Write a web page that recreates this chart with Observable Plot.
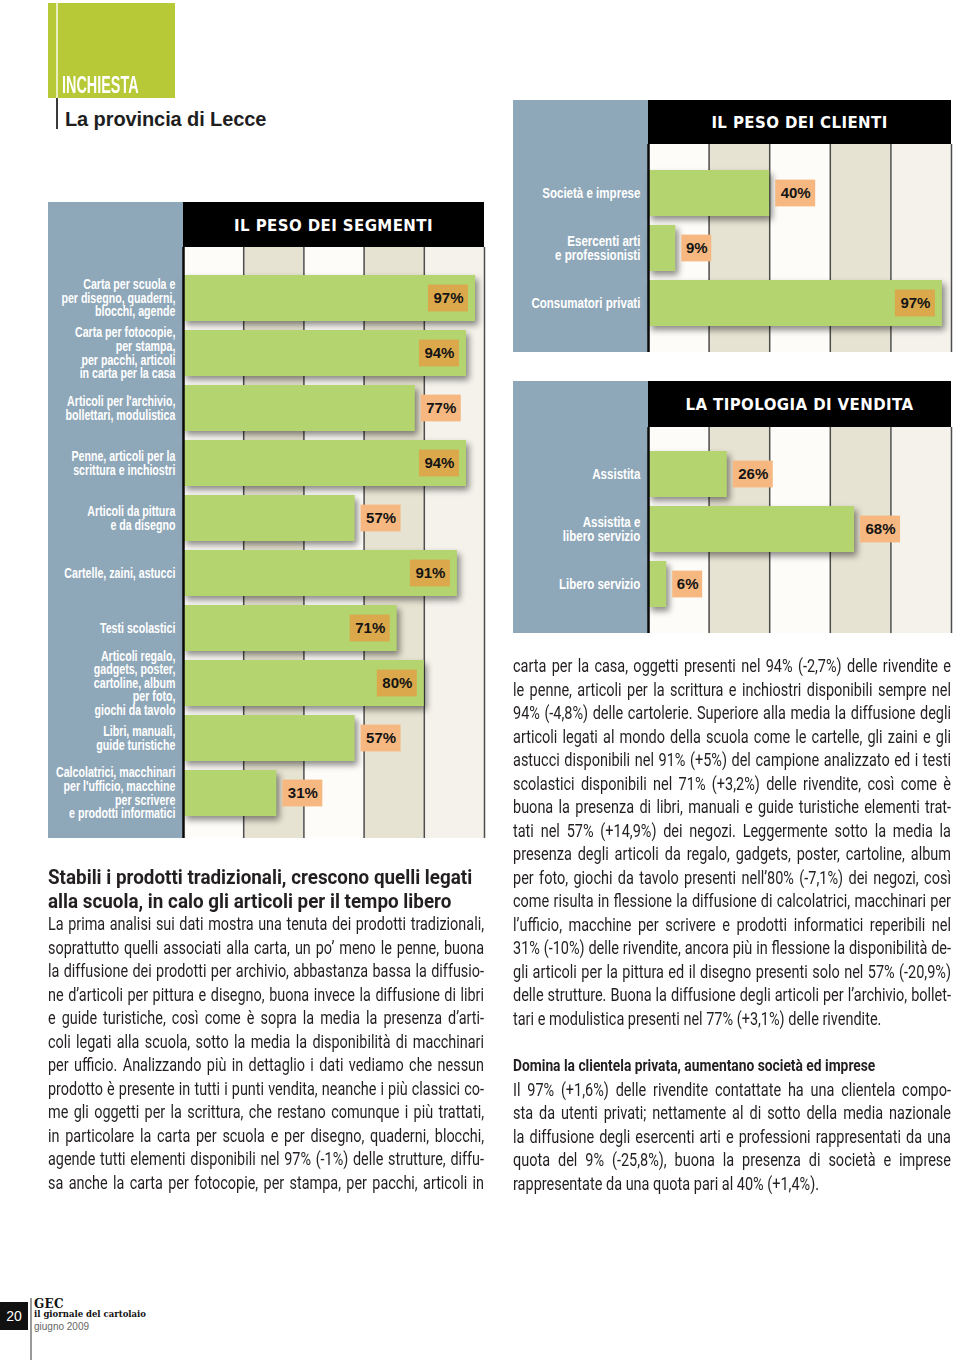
<!DOCTYPE html>
<html>
<head>
<meta charset="utf-8">
<script src="https://cdn.jsdelivr.net/npm/d3@7"></script>
<script src="https://cdn.jsdelivr.net/npm/@observablehq/plot@0.6"></script>
<style>
  body { margin: 0; background: #fff; }
  #page { position: relative; width: 960px; height: 1360px; overflow: hidden; background: #fff; font-family: "Liberation Sans", Arial, sans-serif; color: #231f20; }
  .panel { position: absolute; background: #8fa8b9; }
  .hdr { position: absolute; background: #000; color: #fff; font-family: "DejaVu Sans", sans-serif; font-weight: bold; font-size: 15px; letter-spacing: 0.4px; display: flex; align-items: center; justify-content: center; padding-top: 2px; box-sizing: border-box; }
  .chart { position: absolute; }
  .chart svg { display: block; overflow: visible; }
  .shadowbar { filter: drop-shadow(3px 4px 3px rgba(0,0,0,0.45)); }
</style>
</head>
<body>
<div id="page"></div>
<script>
// ---------------- DATA ----------------
const segmentCats = [
  "Carta per scuola e\nper disegno, quaderni,\nblocchi, agende",
  "Carta per fotocopie,\nper stampa,\nper pacchi, articoli\nin carta per la casa",
  "Articoli per l'archivio,\nbollettari, modulistica",
  "Penne, articoli per la\nscrittura e inchiostri",
  "Articoli da pittura\ne da disegno",
  "Cartelle, zaini, astucci",
  "Testi scolastici",
  "Articoli regalo,\ngadgets, poster,\ncartoline, album\nper foto,\ngiochi da tavolo",
  "Libri, manuali,\nguide turistiche",
  "Calcolatrici, macchinari\nper l'ufficio, macchine\nper scrivere\ne prodotti informatici"
];
const segmentValues = [97, 94, 77, 94, 57, 91, 71, 80, 57, 31];
const segmentLabelInside = [true, true, false, true, false, true, true, true, false, false];

const clientCats = ["Società e imprese", "Esercenti arti\ne professionisti", "Consumatori privati"];
const clientValues = [40, 9, 97];
const clientLabelInside = [false, false, true];

const venditaCats = ["Assistita", "Assistita e\nlibero servizio", "Libero servizio"];
const venditaValues = [26, 68, 6];
const venditaLabelInside = [false, false, false];

const gridTicks = [0, 20, 40, 60, 80, 100];

const titleSegmenti = "IL PESO DEI SEGMENTI";
const titleClienti = "IL PESO DEI CLIENTI";
const titleVendita = "LA TIPOLOGIA DI VENDITA";

// ---------------- HELPERS ----------------
const page = document.getElementById("page");
function el(tag, css, text, parent = page) {
  const d = document.createElement(tag);
  d.style.cssText = css;
  if (text != null) d.textContent = text;
  parent.appendChild(d);
  return d;
}
function measure(text, font) {
  const sp = document.createElement("span");
  sp.style.cssText = `position:absolute;visibility:hidden;white-space:pre;font:${font}`;
  sp.textContent = text;
  document.body.appendChild(sp);
  const w = sp.getBoundingClientRect().width;
  sp.remove();
  return w;
}

const ML = 135;
function barChart({cats, vals, inside, left, top, width, height, marginTop, yRange, labelSize, labelScale, title}) {
  el("div", `left:${left}px;top:${top}px;width:${ML}px;height:${height}px`, null).className = "panel";
  const h = el("div", `left:${left + ML}px;top:${top}px;width:${width - ML}px;height:${marginTop}px`, title);
  h.className = "hdr";
  const holder = el("div", `left:${left}px;top:${top}px;width:${width}px;height:${height}px`, null);
  holder.className = "chart";

  const ppu = (width - ML) / 100;
  const data = cats.map((cat, i) => ({cat, v: vals[i], inside: inside[i]}));
  const badgePx = d => String(d.v).length * 10 + 20;
  const bx1 = d => d.inside ? d.v - (7 + badgePx(d)) / ppu : d.v + 6 / ppu;
  const bx2 = d => bx1(d) + badgePx(d) / ppu;
  const bands = gridTicks.slice(0, -1).map((t, i) => ({a: t, b: gridTicks[i + 1], i}));
  const bandFill = d => d.i === 4 ? "#f4f2ea" : (d.i % 2 ? "#e7e3d2" : "#fdfcf8");

  const svg = Plot.plot({
    width, height,
    marginLeft: ML, marginRight: 0, marginTop, marginBottom: 0,
    style: {background: "transparent", overflow: "visible"},
    x: {domain: [0, 100], axis: null},
    y: {domain: cats, range: yRange, paddingInner: 0.165, paddingOuter: 0.0825, label: null},
    marks: [
      Plot.rect(bands, {x1: "a", x2: "b", fill: bandFill}),
      Plot.ruleX(gridTicks.slice(1), {stroke: "#4e4e4e", strokeWidth: 1.5}),
      Plot.barX(data, {x: "v", y: "cat", fill: "#b3d46e", className: "shadowbar"}),
      Plot.ruleX([0], {stroke: "#0a0a0a", strokeWidth: 2.5}),
      Plot.barX(data, {x1: bx1, x2: bx2, y: "cat", insetTop: 9.6, insetBottom: 9.6,
        fill: d => d.inside ? "#dba94c" : "#f6b880"}),
      Plot.text(data, {x: d => (bx1(d) + bx2(d)) / 2, y: "cat", text: d => d.v + "%",
        fontFamily: "Liberation Sans, Arial, sans-serif", fontWeight: "bold", fontSize: 15, fill: "#141414"}),
      Plot.axisY({tickSize: 0, tickPadding: 8, color: "white", fontSize: labelSize, fontWeight: "bold",
        fontFamily: "Liberation Sans, Arial, sans-serif", lineHeight: 0.97, label: null})
    ]
  });
  holder.appendChild(svg);
  const barG = svg.querySelectorAll('g[aria-label="bar"]')[0];
  if (barG) barG.style.filter = "drop-shadow(3px 4px 3px rgba(0,0,0,0.45))";
  // condense the tick labels horizontally around their right edge
  const g = svg.querySelector('g[aria-label="y-axis tick label"]');
  if (g) {
    const wrap = document.createElementNS("http://www.w3.org/2000/svg", "g");
    g.parentNode.insertBefore(wrap, g);
    wrap.appendChild(g);
    const ax = ML - 8;
    wrap.setAttribute("transform", `translate(${ax},0) scale(${labelScale},1) translate(${-ax},0)`);
  }
}

// ---------------- HEADER ----------------
el("div", "position:absolute;left:48px;top:3px;width:127px;height:95px;background:#b7c936", null);
el("div", "position:absolute;left:56px;top:3px;width:1.5px;height:95px;background:#e8eec0", null);
el("div", "position:absolute;left:56px;top:98px;width:2px;height:31px;background:#3a3a3a", null);
el("div", "position:absolute;left:62px;top:71px;white-space:nowrap;color:#fff;font:bold 24px 'Liberation Sans',Arial,sans-serif;transform:scaleX(0.6);transform-origin:0 0", "INCHIESTA");
el("div", "position:absolute;left:65px;top:108px;white-space:nowrap;color:#1e1e1e;font:bold 20px 'Liberation Sans',Arial,sans-serif;letter-spacing:-0.1px", "La provincia di Lecce");

// ---------------- CHARTS ----------------
barChart({cats: segmentCats, vals: segmentValues, inside: segmentLabelInside,
  left: 48, top: 202, width: 436, height: 636, marginTop: 45, yRange: [65.2, 620.8],
  labelSize: 14, labelScale: 0.76, title: titleSegmenti});
barChart({cats: clientCats, vals: clientValues, inside: clientLabelInside,
  left: 513, top: 100, width: 438, height: 252, marginTop: 44, yRange: [64.4, 231.7],
  labelSize: 15, labelScale: 0.77, title: titleClienti});
barChart({cats: venditaCats, vals: venditaValues, inside: venditaLabelInside,
  left: 513, top: 381, width: 438, height: 252, marginTop: 46, yRange: [65.4, 230.9],
  labelSize: 15, labelScale: 0.77, title: titleVendita});

// ---------------- TEXT ----------------
const leftHeading = [
  "Stabili i prodotti tradizionali, crescono quelli legati",
  "alla scuola, in calo gli articoli per il tempo libero"
];
const leftBody = [
  "La prima analisi sui dati mostra una tenuta dei prodotti tradizionali,",
  "soprattutto quelli associati alla carta, un po’ meno le penne, buona",
  "la diffusione dei prodotti per archivio, abbastanza bassa la diffusio-",
  "ne d’articoli per pittura e disegno, buona invece la diffusione di libri",
  "e guide turistiche, così come è sopra la media la presenza d’arti-",
  "coli legati alla scuola, sotto la media la disponibilità di macchinari",
  "per ufficio. Analizzando più in dettaglio i dati vediamo che nessun",
  "prodotto è presente in tutti i punti vendita, neanche i più classici co-",
  "me gli oggetti per la scrittura, che restano comunque i più trattati,",
  "in particolare la carta per scuola e per disegno, quaderni, blocchi,",
  "agende tutti elementi disponibili nel 97% (-1%) delle strutture, diffu-",
  "sa anche la carta per fotocopie, per stampa, per pacchi, articoli in"
];
const rightBody1 = [
  "carta per la casa, oggetti presenti nel 94% (-2,7%) delle rivendite e",
  "le penne, articoli per la scrittura e inchiostri disponibili sempre nel",
  "94% (-4,8%) delle cartolerie. Superiore alla media la diffusione degli",
  "articoli legati al mondo della scuola come le cartelle, gli zaini e gli",
  "astucci disponibili nel 91% (+5%) del campione analizzato ed i testi",
  "scolastici disponibili nel 71% (+3,2%) delle rivendite, così come è",
  "buona la presenza di libri, manuali e guide turistiche elementi trat-",
  "tati nel 57% (+14,9%) dei negozi. Leggermente sotto la media la",
  "presenza degli articoli da regalo, gadgets, poster, cartoline, album",
  "per foto, giochi da tavolo presenti nell’80% (-7,1%) dei negozi, così",
  "come risulta in flessione la diffusione di calcolatrici, macchinari per",
  "l’ufficio, macchine per scrivere e prodotti informatici reperibili nel",
  "31% (-10%) delle rivendite, ancora più in flessione la disponibilità de-",
  "gli articoli per la pittura ed il disegno presenti solo nel 57% (-20,9%)",
  "delle strutture. Buona la diffusione degli articoli per l’archivio, bollet-",
  "tari e modulistica presenti nel 77% (+3,1%) delle rivendite."
];
const rightHeading = "Domina la clientela privata, aumentano società ed imprese";
const rightBody2 = [
  "Il 97% (+1,6%) delle rivendite contattate ha una clientela compo-",
  "sta da utenti privati; nettamente al di sotto della media nazionale",
  "la diffusione degli esercenti arti e professioni rappresentati da una",
  "quota del 9% (-25,8%), buona la presenza di società e imprese",
  "rappresentate da una quota pari al 40% (+1,4%)."
];

const bodyFont = "400 18px Roboto, 'Liberation Sans', sans-serif";
const headFont = "bold 21px Roboto, 'Liberation Sans', sans-serif";
const head2Font = "bold 16.5px Roboto, 'Liberation Sans', sans-serif";
const LH = 23.53;

const allBody = [...leftBody, ...rightBody1.slice(0, -1), ...rightBody2.slice(0, -1)];
const innerW = Math.max(...allBody.map(t => measure(t, bodyFont))) + 3;

function block(left, top, width, lines, font, lh, inner, lastSet) {
  const s = width / inner;
  const outer = el("div", `position:absolute;left:${left}px;top:${top}px;width:${width}px`, null);
  const box = el("div", `width:${inner}px;transform:scaleX(${s});transform-origin:0 0;font:${font};color:#231f20`, null, outer);
  lines.forEach((t, i) => {
    const last = lastSet.includes(i);
    el("div", `height:${lh}px;line-height:${lh}px;text-align:${last ? "left" : "justify"};text-align-last:${last ? "left" : "justify"};overflow:visible`, t, box);
  });
}

const lhW = measure(leftHeading[0], headFont) + 2;
block(48, 865, 426, leftHeading, headFont, 24, lhW, [0, 1]);
block(48, 912.2, 436, leftBody, bodyFont, LH, innerW, []);
block(513, 654.2, 438, rightBody1, bodyFont, LH, innerW, [rightBody1.length - 1]);
const rhW = measure(rightHeading, head2Font) + 2;
block(513, 1054.2, 364, [rightHeading], head2Font, LH, rhW, [0]);
block(513, 1077.7, 438, rightBody2, bodyFont, LH, innerW, [rightBody2.length - 1]);

// ---------------- FOOTER ----------------
el("div", "position:absolute;left:0;top:1302px;width:28px;height:28px;background:#111;color:#fff;font:14px 'Liberation Sans',Arial,sans-serif;display:flex;align-items:center;justify-content:center", "20");
el("div", "position:absolute;left:30px;top:1298px;width:2px;height:62px;background:#9a9a9a", null);
el("div", "position:absolute;left:34px;top:1297px;font:900 12px 'DejaVu Serif','Liberation Serif',serif;letter-spacing:0.3px;color:#111", "GEC");
el("div", "position:absolute;left:34px;top:1309px;font:bold 8.5px 'DejaVu Serif','Liberation Serif',serif;color:#111;white-space:nowrap", "il giornale del cartolaio");
el("div", "position:absolute;left:34px;top:1321px;font:10px 'Liberation Sans',Arial,sans-serif;color:#666", "giugno 2009");
</script>
</body>
</html>
